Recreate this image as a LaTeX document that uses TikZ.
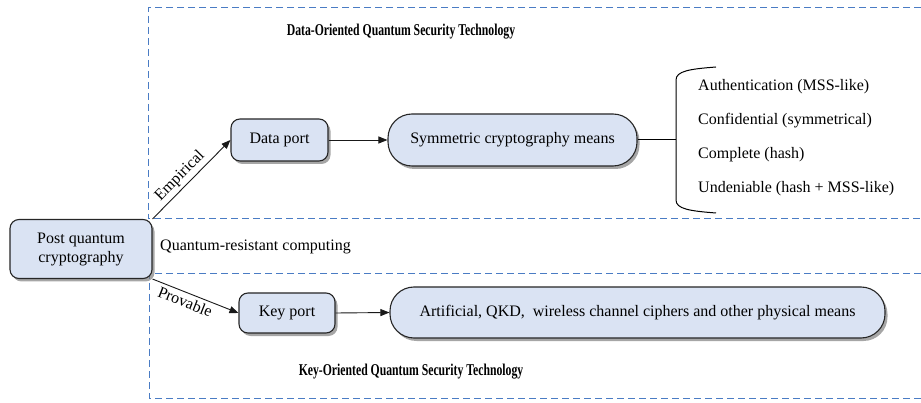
\documentclass[tikz,border=0pt]{standalone}
\usepackage{fontspec}
\setmainfont{Liberation Serif}
\usetikzlibrary{shadows,arrows.meta}
\definecolor{boxfill}{HTML}{DAE3F3}
\definecolor{dashblue}{HTML}{4A7CC4}
\definecolor{edgegray}{HTML}{262626}
\tikzset{
  base/.style={draw=edgegray, line width=1.1pt, fill=boxfill, align=center,
    font=\fontsize{16pt}{19pt}\selectfont, inner sep=0pt,
    drop shadow={opacity=0.7, shadow xshift=2.5pt, shadow yshift=-3pt}},
  rbox/.style={base, rounded corners=9pt},
  pill/.style={base, rounded corners=24pt},
  conn/.style={-{Triangle[length=9pt,width=7pt]}, line width=0.9pt, draw=black!90},
  region/.style={draw=dashblue, dashed, dash pattern=on 7pt off 4pt, line width=1pt},
  lbl/.style={font=\fontsize{16pt}{19pt}\selectfont},
  ttl/.style={font=\fontsize{16.5pt}{19pt}\selectfont\bfseries}
}
\begin{document}
\begin{tikzpicture}[x=1pt,y=-1pt]
\useasboundingbox (0,0) rectangle (921,403);
% dashed regions
\draw[region] (921,8) -- (148,8) -- (148,219) -- (921,219);
\draw[region] (921,274) -- (149,274) -- (149,398) -- (921,398);
% titles
\node[ttl] (t1) at (401,32) {\scalebox{0.71}[1]{Data-Oriented Quantum Security Technology}};
\node[ttl] (t2) at (411,372) {\scalebox{0.71}[1]{Key-Oriented Quantum Security Technology}};
% nodes
\node[rbox, minimum width=142pt, minimum height=59pt] (pqc) at (81,249) {Post quantum\\cryptography};
\node[rbox, minimum width=97pt, minimum height=42pt] (dp) at (279.5,140) {Data port};
\node[pill, minimum width=249pt, minimum height=52pt] (sym) at (512.5,140) {Symmetric cryptography means};
\node[rbox, minimum width=96pt, minimum height=40pt] (kp) at (287,313) {Key port};
\node[pill, minimum width=495pt, minimum height=51pt] (phys) at (637.5,312.5) {Artificial, QKD,\ \ wireless channel ciphers and other physical means};
\node[lbl, anchor=west, inner sep=0pt] (qrc) at (160,247) {Quantum-resistant computing};
% list
\node[lbl, anchor=west, inner sep=0pt] (i1) at (698,87) {Authentication (MSS-like)};
\node[lbl, anchor=west, inner sep=0pt] (i2) at (698,121) {Confidential (symmetrical)};
\node[lbl, anchor=west, inner sep=0pt] (i3) at (698,155) {Complete (hash)};
\node[lbl, anchor=west, inner sep=0pt] (i4) at (698,189) {Undeniable (hash + MSS-like)};
% brace
\coordinate (bm) at (676,140);
\draw[line width=1pt] (716,67) .. controls (690,69) and (676,71) .. (676,80) -- (676,200) .. controls (676,209) and (690,211) .. (716,213);
% connectors
\draw[conn] (pqc.north east) -- node[lbl, pos=0.45, above, sloped, inner sep=3pt] {Empirical} (dp.west);
\draw[conn] (pqc.south east) -- node[lbl, pos=0.42, below, sloped, inner sep=3pt] {Provable} (kp.west);
\draw[conn] (dp.east) -- (sym.west);
\draw[conn] (kp.east) -- (phys.west);
\draw[line width=1pt] (sym.east) -- (bm);
\end{tikzpicture}
\end{document}
